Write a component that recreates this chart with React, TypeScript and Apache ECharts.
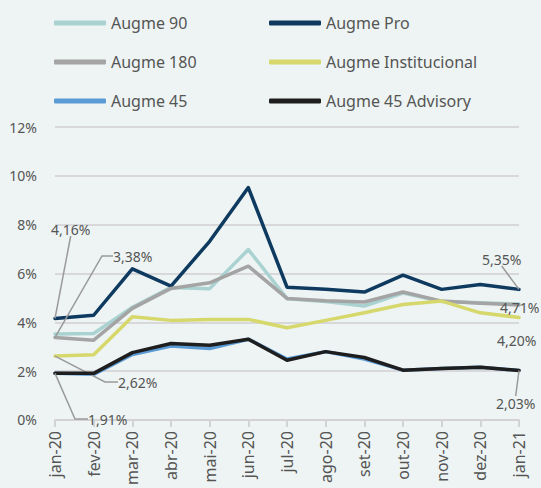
import React, { useEffect, useRef } from "react";
import * as echarts from "echarts";

const months = ["jan-20", "fev-20", "mar-20", "abr-20", "mai-20", "jun-20", "jul-20", "ago-20", "set-20", "out-20", "nov-20", "dez-20", "jan-21"];
const yTicks = [0, 2, 4, 6, 8, 10, 12];

const augme90 = [3.52, 3.54, 4.62, 5.43, 5.38, 6.98, 4.97, 4.85, 4.67, 5.2, 4.85, 4.8, 4.75];
const augmePro = [4.16, 4.29, 6.19, 5.48, 7.32, 9.52, 5.44, 5.35, 5.24, 5.93, 5.35, 5.55, 5.35];
const augme180 = [3.38, 3.27, 4.57, 5.39, 5.62, 6.3, 4.98, 4.88, 4.83, 5.24, 4.87, 4.78, 4.71];
const augmeInst = [2.62, 2.67, 4.23, 4.08, 4.12, 4.12, 3.78, 4.08, 4.39, 4.73, 4.87, 4.39, 4.2];
const augme45 = [1.91, 1.87, 2.68, 3.03, 2.93, 3.31, 2.5, 2.8, 2.5, 2.04, 2.11, 2.16, 2.03];
const augme45Adv = [1.91, 1.91, 2.76, 3.13, 3.06, 3.31, 2.45, 2.8, 2.56, 2.04, 2.11, 2.16, 2.03];

const seriesDefs = [
  { name: "Augme 90", data: augme90, color: "#a9d2d0", width: 3.5 },
  { name: "Augme Pro", data: augmePro, color: "#0f3a60", width: 3.5 },
  { name: "Augme 180", data: augme180, color: "#a4a4a4", width: 3.5 },
  { name: "Augme Institucional", data: augmeInst, color: "#d6d86c", width: 3.5 },
  { name: "Augme 45", data: augme45, color: "#5b9bd5", width: 3.5 },
  { name: "Augme 45 Advisory", data: augme45Adv, color: "#1e1e1e", width: 3.5 },
];

// annotated points: "seriesIndex-dataIndex" -> label anchor, leader line on/off, elbow length
const annotations: Record<string, { x: number; y: number; line: boolean; elbow: number }> = {
  "1-0": { x: 51, y: 229, line: true, elbow: 0 },
  "2-0": { x: 113, y: 256, line: true, elbow: 11 },
  "3-0": { x: 118, y: 382, line: true, elbow: 13 },
  "5-0": { x: 88, y: 419, line: true, elbow: 13 },
  "1-12": { x: 482, y: 259, line: true, elbow: 0 },
  "2-12": { x: 500, y: 307, line: false, elbow: 0 },
  "3-12": { x: 497, y: 340, line: false, elbow: 0 },
  "5-12": { x: 496, y: 403, line: true, elbow: 0 },
};

const FONT = "'Noto Sans', sans-serif";

export default function App() {
  const ref = useRef<HTMLDivElement>(null);
  useEffect(() => {
    document.body.style.margin = "0";
    const chart = echarts.init(ref.current!, undefined, { renderer: "svg" });
    const series = seriesDefs.map((s, si) => ({
      name: s.name,
      type: "line",
      data: s.data.map((v, di) => {
        const a = annotations[si + "-" + di];
        if (!a) return v;
        return {
          value: v,
          label: {
            show: true,
            formatter: (p: any) => Number(p.value).toFixed(2).replace(".", ",") + "%",
            color: "#555555",
            fontSize: 14,
            fontFamily: FONT,
          },
          labelLine: { show: a.line, length2: a.elbow, lineStyle: { color: "#9a9a9a", width: 1.5 } },
        };
      }),
      showSymbol: true,
      showAllSymbol: true,
      symbol: "circle",
      symbolSize: 0.1,
      lineStyle: { color: s.color, width: s.width, cap: "round", join: "round" },
      itemStyle: { color: s.color },
      z: si === 5 ? 5 : 3,
      labelLayout: (params: any) => {
        const a = annotations[params.seriesIndex + "-" + params.dataIndex];
        if (!a) return {};
        return { x: a.x, y: a.y, align: "left", verticalAlign: "middle" };
      },
      labelLine: { show: true, lineStyle: { color: "#9a9a9a", width: 1.5 } },
    }));
    const legendCommon = {
      orient: "vertical",
      icon: "roundRect",
      itemWidth: 52,
      itemHeight: 5,
      itemGap: 23,
      padding: 0,
      textStyle: { color: "#555555", fontSize: 16, fontFamily: FONT },
      top: 15,
    };
    chart.setOption({
      animation: false,
      backgroundColor: "#edf4f3",
      legend: [
        { ...legendCommon, left: 54, data: ["Augme 90", "Augme 180", "Augme 45"] },
        { ...legendCommon, left: 269, data: ["Augme Pro", "Augme Institucional", "Augme 45 Advisory"] },
      ],
      grid: { left: 55, right: 22, top: 127, bottom: 67, containLabel: false },
      xAxis: {
        type: "category",
        data: months,
        boundaryGap: false,
        axisLine: { show: true, lineStyle: { color: "#d3d3d6", width: 2 } },
        axisTick: { show: true, length: 7, lineStyle: { color: "#d3d3d6", width: 2 } },
        axisLabel: { rotate: 90, color: "#555555", fontSize: 16, fontFamily: FONT, margin: 11, interval: 0 },
        splitLine: { show: false },
      },
      yAxis: {
        type: "value",
        min: yTicks[0],
        max: yTicks[yTicks.length - 1],
        interval: 2,
        axisLabel: { formatter: "{value}%", color: "#555555", fontSize: 14, fontFamily: FONT, margin: 18 },
        axisLine: { show: false },
        axisTick: { show: false },
        splitLine: { lineStyle: { color: "#d8d8db", width: 2 } },
      },
      series,
    });
    return () => chart.dispose();
  }, []);
  return <div ref={ref} style={{ position: "absolute", left: 0, top: 0, width: 541, height: 488 }} />;
}
